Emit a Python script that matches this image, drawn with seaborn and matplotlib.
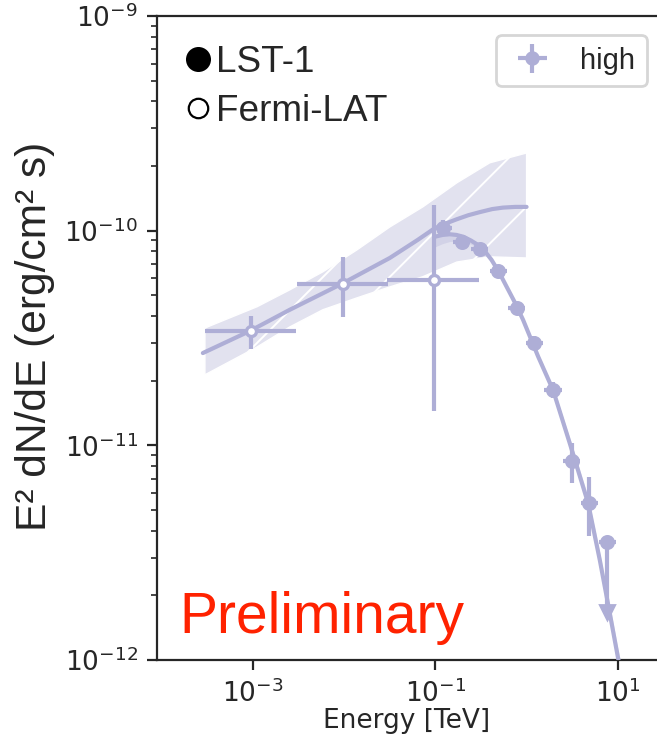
import matplotlib
matplotlib.use('Agg')
import matplotlib.pyplot as plt
from matplotlib.lines import Line2D
from matplotlib.ticker import NullLocator
import seaborn as sns

# Fermi-LAT flux points (TeV, erg/cm2/s)
fermi_e = [9.6e-4, 9.7e-3, 9.7e-2]
fermi_e_lo = [2.98e-4, 3.03e-3, 2.94e-2]
fermi_e_hi = [2.96e-3, 3.01e-2, 3.00e-1]
fermi_f = [3.41e-11, 5.65e-11, 5.89e-11]
fermi_f_lo = [2.81e-11, 3.96e-11, 1.44e-11]
fermi_f_hi = [4.00e-11, 7.55e-11, 1.32e-10]

# Fermi-LAT model and its uncertainty band
fermi_model_e = [2.83e-4, 9.3e-4, 2.54e-3, 9.4e-3, 0.0317, 0.0640, 0.0964, 0.130, 0.172, 0.230,
                 0.308, 0.420, 0.550, 0.750, 1.0]
fermi_model_f = [2.69e-11, 3.41e-11, 4.28e-11, 5.65e-11, 7.46e-11, 9.05e-11, 1.02e-10, 1.08e-10,
                 1.13e-10, 1.18e-10, 1.22e-10, 1.26e-10, 1.28e-10, 1.29e-10, 1.29e-10]
fermi_band_e = [2.98e-4, 1.11e-3, 2.54e-3, 5.85e-3, 0.0138, 0.0317, 0.0729, 0.172, 0.395, 1.0]
fermi_band_hi = [3.52e-11, 4.42e-11, 5.30e-11, 6.43e-11, 8.13e-11, 1.04e-10, 1.29e-10, 1.67e-10, 2.07e-10, 2.30e-10]
fermi_band_lo = [2.13e-11, 2.87e-11, 3.56e-11, 4.28e-11, 4.86e-11, 5.47e-11, 6.10e-11, 7.14e-11, 7.55e-11, 7.46e-11]

# LST-1 flux points
lst_e = [0.122, 0.194, 0.308, 0.488, 0.776, 1.21, 1.95, 3.11, 4.85, 7.71]
lst_e_lo = [0.098, 0.156, 0.248, 0.393, 0.625, 0.975, 1.57, 2.51, 3.91, 6.22]
lst_e_hi = [0.151, 0.240, 0.382, 0.605, 0.962, 1.50, 2.42, 3.86, 6.01, 9.56]
lst_f = [1.026e-10, 8.89e-11, 8.18e-11, 6.49e-11, 4.37e-11, 2.99e-11, 1.81e-11, 8.45e-12, 5.37e-12, 3.55e-12]
lst_f_lo = [0.94e-10, 8.43e-11, 7.76e-11, 6.15e-11, 4.14e-11, 2.77e-11, 1.66e-11, 6.65e-12, 3.76e-12, 1.80e-12]
lst_f_hi = [1.12e-10, 9.38e-11, 8.63e-11, 6.85e-11, 4.61e-11, 3.22e-11, 1.97e-11, 1.02e-11, 7.08e-12, 3.55e-12]
lst_ul_e = [7.71]
lst_ul_f = [1.68e-12]

# LST-1 log-parabola model and band
lst_model_e = [0.099, 0.120, 0.144, 0.170, 0.202, 0.245, 0.295, 0.350, 0.413, 0.500, 0.603, 0.750,
               0.916, 1.34, 1.95, 2.98, 4.73, 6.35, 8.17, 10.07, 12.0]
lst_model_f = [9.37e-11, 9.55e-11, 9.62e-11, 9.55e-11, 9.37e-11, 9.0e-11, 8.57e-11, 8.0e-11, 7.31e-11,
               6.4e-11, 5.49e-11, 4.6e-11, 3.84e-11, 2.59e-11, 1.81e-11, 1.02e-11, 5.37e-12, 2.92e-12,
               1.65e-12, 1.02e-12, 7.0e-13]
lst_band_hi = [9.6e-11, 9.75e-11, 9.8e-11, 9.72e-11, 9.55e-11, 9.18e-11, 8.75e-11, 8.17e-11, 7.45e-11,
               6.53e-11, 5.6e-11, 4.7e-11, 3.93e-11, 2.67e-11, 1.88e-11, 1.08e-11, 5.75e-12, 3.15e-12,
               1.8e-12, 1.12e-12, 7.8e-13]
lst_band_lo = [8.4e-11, 8.7e-11, 8.9e-11, 8.95e-11, 8.9e-11, 8.65e-11, 8.3e-11, 7.8e-11, 7.15e-11,
               6.28e-11, 5.38e-11, 4.5e-11, 3.75e-11, 2.51e-11, 1.74e-11, 9.7e-12, 5.0e-12, 2.7e-12,
               1.5e-12, 0.92e-12, 6.2e-13]

lav = '#aeaed6'
band = '#e2e2ef'

sns.set_style('ticks')
plt.rcParams['font.family'] = ['DejaVu Sans']
plt.rcParams['hatch.linewidth'] = 0.7

fig = plt.figure(figsize=(3.285, 3.68), dpi=200)
ax = fig.add_axes([0.239, 0.1033, 0.761, 0.875])
ax.set_xscale('log')
ax.set_yscale('log')

# Fermi band (hatched) + model
ax.fill_between(fermi_band_e, fermi_band_lo, fermi_band_hi, facecolor=band,
                edgecolor='white', hatch='/', linewidth=0.5, zorder=1)
sns.lineplot(x=fermi_model_e, y=fermi_model_f, ax=ax, color=lav, lw=1.5, zorder=3)

# LST band + model
ax.fill_between(lst_model_e, lst_band_lo, lst_band_hi, color=lav, alpha=0.3, linewidth=0, zorder=2)
sns.lineplot(x=lst_model_e, y=lst_model_f, ax=ax, color=lav, lw=1.5, zorder=3)

# Fermi points
ax.errorbar(fermi_e, fermi_f,
            xerr=[[c - l for c, l in zip(fermi_e, fermi_e_lo)], [h - c for c, h in zip(fermi_e, fermi_e_hi)]],
            yerr=[[c - l for c, l in zip(fermi_f, fermi_f_lo)], [h - c for c, h in zip(fermi_f, fermi_f_hi)]],
            fmt='o', ms=3.6, mfc='white', mec=lav, mew=1.2, color=lav, elinewidth=1.5, capsize=0, zorder=4)

# LST points
ax.errorbar(lst_e, lst_f,
            xerr=[[c - l for c, l in zip(lst_e, lst_e_lo)], [h - c for c, h in zip(lst_e, lst_e_hi)]],
            yerr=[[c - l for c, l in zip(lst_f, lst_f_lo)], [h - c for c, h in zip(lst_f, lst_f_hi)]],
            fmt='o', ms=4.4, color=lav, elinewidth=1.5, capsize=0, zorder=4)
ax.plot(lst_ul_e, lst_ul_f, 'v', ms=4.8, color=lav, zorder=4)

# proxy for the "high" legend entry
proxy = ax.errorbar([], [], xerr=[], yerr=[], fmt='o', ms=4.2, color=lav,
                    elinewidth=1.5, capsize=2.5, label='high')

ax.set_xlim(8.9e-5, 26.9)
ax.set_ylim(1e-12, 1e-9)
ax.set_xticks([1e-3, 1e-1, 1e1])
ax.xaxis.set_minor_locator(NullLocator())
ax.tick_params(labelsize=9.5, top=False, right=False)
ax.spines['right'].set_visible(False)

ax.set_xlabel('Energy [TeV]', fontsize=9.5, labelpad=0)
ax.set_ylabel('E² dN/dE (erg/cm² s)', fontsize=15.3, family='Liberation Sans')
ax.yaxis.set_label_coords(-0.204, 0.503)

ax.text(0.044, 0.042, 'Preliminary', transform=ax.transAxes, color='#ff2200',
        fontsize=20.5, family='Liberation Sans', va='baseline')

h1 = [Line2D([], [], ls='', marker='o', ms=8, mfc='black', mec='black'),
      Line2D([], [], ls='', marker='o', ms=7, mfc='white', mec='black', mew=0.8)]
leg1 = ax.legend(h1, ['LST-1', 'Fermi-LAT'], loc='upper left', frameon=False,
                 bbox_to_anchor=(0.0, 0.995), prop={'family': 'Liberation Sans', 'size': 13.3},
                 handlelength=0.8, handletextpad=0.1, labelspacing=0.38, borderaxespad=0.3)
ax.add_artist(leg1)
ax.legend(handles=[proxy], labels=['high'], loc='upper right', fancybox=True,
          bbox_to_anchor=(0.98, 0.9705), borderaxespad=0, edgecolor='#cccccc',
          prop={'family': 'Liberation Sans', 'size': 10.5},
          handlelength=1.7, handletextpad=0.8, borderpad=0.4)

fig.savefig('out.png', dpi=200)
